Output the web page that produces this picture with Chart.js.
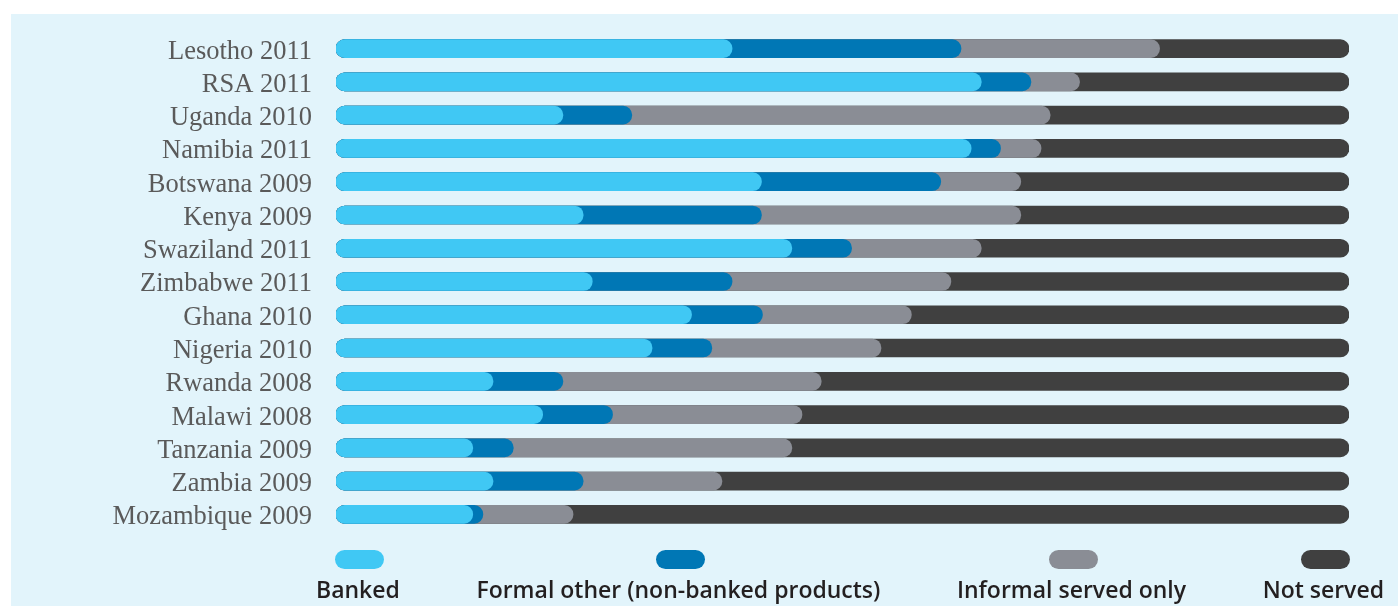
<!DOCTYPE html>
<html>
<head>
<meta charset="utf-8">
<script src="https://cdn.jsdelivr.net/npm/chart.js@4.4.1/dist/chart.umd.min.js"></script>
<style>
  html, body { margin: 0; padding: 0; background: #fff; }
  #wrap { position: relative; width: 1398px; height: 606px; }
  #chart { position: absolute; left: 0; top: 0; }
  #legend {
    position: absolute; left: 316px; top: 550px; width: 1068px;
    display: flex; justify-content: space-between;
    font-family: "Open Sans", sans-serif; font-weight: 600; font-size: 23px;
    color: #231f20;
  }
  #legend .item { display: flex; flex-direction: column; align-items: center; }
  #legend .sw { width: 49px; height: 19px; border-radius: 10px; margin-left: 4px; }
  #legend .lbl { margin-top: 9px; line-height: 22px; white-space: nowrap; }
</style>
</head>
<body>
<div id="wrap">
  <canvas id="chart" width="1398" height="606"></canvas>
  <div id="legend"></div>
</div>
<script>
    // ===== Data (percent of adults) =====
    const countries = [
        'Lesotho 2011', 'RSA 2011', 'Uganda 2010', 'Namibia 2011', 'Botswana 2009',
        'Kenya 2009', 'Swaziland 2011', 'Zimbabwe 2011', 'Ghana 2010', 'Nigeria 2010',
        'Rwanda 2008', 'Malawi 2008', 'Tanzania 2009', 'Zambia 2009', 'Mozambique 2009'
    ];
    const banked       = [39.1, 63.7, 22.4, 62.7, 42.0, 24.4, 45.0, 25.3, 35.1, 31.2, 15.5, 20.4, 13.5, 15.5, 13.5];
    const formalOther  = [22.6,  4.9,  6.8,  2.9, 17.7, 17.6,  5.9, 13.8,  7.0,  5.9,  6.9,  6.9,  4.0,  8.9,  1.0];
    const informalOnly = [19.6,  4.8, 41.3,  4.0,  7.9, 25.6, 12.8, 21.6, 14.7, 16.7, 25.5, 18.7, 27.5, 13.7,  8.9];
    const notServed    = [18.7, 26.6, 29.5, 30.4, 32.4, 32.4, 36.3, 39.3, 43.2, 46.2, 52.1, 54.0, 55.0, 61.9, 76.6];

    const seriesNames = ['Banked', 'Formal other (non-banked products)', 'Informal served only', 'Not served'];
    const seriesColors = ['#40c8f4', '#0077b5', '#8a8d95', '#404040'];

    // bars are layered: each one runs from 0 to its running total, so the
    // rounded right end of a segment sits over the next one
    const parts = [banked, formalOther, informalOnly, notServed];
    const running = parts.map((_, k) => countries.map((c, i) => {
        let s = 0;
        for (let j = 0; j <= k; j++) s += parts[j][i];
        return +s.toFixed(1);
    }));

    const panel = {
        id: 'panel',
        beforeDraw(chart) {
            const ctx = chart.ctx;
            ctx.save();
            ctx.fillStyle = '#e2f4fb';
            ctx.fillRect(11, 14, chart.width - 11, chart.height - 14);
            ctx.restore();
        }
    };

    const chart = new Chart(document.getElementById('chart'), {
        type: 'bar',
        data: {
            labels: countries,
            datasets: seriesNames.map((name, k) => ({
                label: name,
                data: running[k],
                backgroundColor: seriesColors[k],
                grouped: false,
                barThickness: 18,
                borderRadius: 9,
                borderSkipped: false,
                borderWidth: 0
            }))
        },
        options: {
            indexAxis: 'y',
            responsive: false,
            animation: false,
            layout: { padding: { left: 0, right: 49, top: 32, bottom: 75 } },
            plugins: { legend: { display: false }, tooltip: { enabled: false } },
            scales: {
                x: { min: 0, max: 100, display: false },
                y: {
                    grid: { display: false, drawTicks: false },
                    border: { display: false },
                    afterFit(scale) {
                        scale.width = 336;
                        // keep tick padding from pushing the plot area down
                        scale.paddingTop = 0;
                        scale.paddingBottom = 0;
                    },
                    ticks: {
                        autoSkip: false,
                        padding: 24,
                        labelOffset: 3,
                        color: '#5a5a5a',
                        font: { family: '"Liberation Serif", serif', size: 26.5 }
                    }
                }
            }
        },
        plugins: [panel]
    });

    // ===== Legend (swatch above label) =====
    const legendBox = document.getElementById('legend');
    chart.data.datasets.forEach(ds => {
        const item = document.createElement('div');
        item.className = 'item';
        item.innerHTML = `<div class="sw" style="background:${ds.backgroundColor}"></div><div class="lbl">${ds.label}</div>`;
        legendBox.appendChild(item);
    });
</script>
</body>
</html>
